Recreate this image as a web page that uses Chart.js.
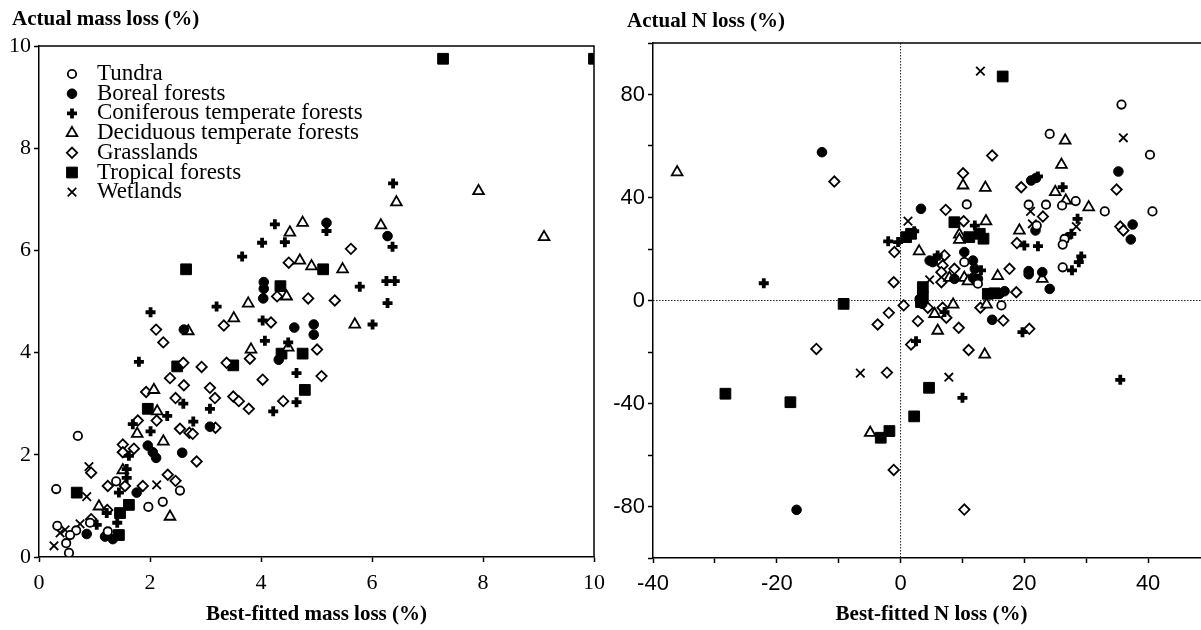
<!DOCTYPE html>
<html>
<head>
<meta charset="utf-8">
<title>Actual vs best-fitted mass and N loss</title>
<script src="https://cdn.jsdelivr.net/npm/chart.js@4/dist/chart.umd.min.js"></script>
<style>
    html, body {
        margin: 0;
        padding: 0;
        background: #fff;
        width: 1201px;
        height: 630px;
        overflow: hidden;
    }
    #massChart { position: absolute; left: 0; top: 0; }
    #nChart { position: absolute; left: 600px; top: 0; }
</style>
</head>
<body>
<canvas id="massChart" width="640" height="630"></canvas>
<canvas id="nChart" width="620" height="630"></canvas>
<script>
// biomes, in legend order
var biomes = ['Tundra', 'Boreal forests', 'Coniferous temperate forests',
    'Deciduous temperate forests', 'Grasslands', 'Tropical forests', 'Wetlands'];

// left panel: [best-fitted mass loss, actual mass loss]
var massTundra = [[0.70, 2.37], [1.39, 1.48], [2.54, 1.30], [0.31, 1.33], [1.97, 0.98], [2.23, 1.08], [0.92, 0.67],
    [0.67, 0.52], [0.33, 0.61], [0.56, 0.43], [1.24, 0.50], [0.49, 0.27], [0.54, 0.08]];
var massBoreal = [[5.18, 6.54], [6.28, 6.28], [4.05, 5.38], [4.05, 5.25], [4.04, 5.06], [2.61, 4.45], [4.60, 4.49],
    [4.95, 4.55], [4.95, 4.35], [4.32, 3.86], [3.08, 2.55], [1.96, 2.18], [2.05, 2.05], [2.11, 1.94], [2.58, 2.04],
    [1.76, 1.26], [0.86, 0.45], [1.19, 0.40], [1.33, 0.35]];
var massConifer = [[4.25, 6.51], [5.18, 6.38], [4.02, 6.15], [4.43, 6.16], [3.66, 5.88], [3.20, 4.90], [2.01, 4.79],
    [4.03, 4.63], [4.07, 4.23], [4.49, 4.20], [1.80, 3.82], [4.64, 3.60], [2.60, 3.00], [3.08, 2.90], [4.22, 2.85],
    [4.64, 3.03], [2.31, 2.76], [2.78, 2.65], [1.69, 2.60], [2.01, 2.46], [1.62, 1.98], [1.58, 1.72], [1.58, 1.55],
    [1.44, 1.26], [1.41, 0.67], [1.22, 0.86], [1.04, 0.63], [6.38, 7.31], [6.37, 6.07], [5.78, 5.29], [6.26, 5.40],
    [6.41, 5.40], [6.28, 4.97], [6.01, 4.55]];
var massDeciduous = [[4.75, 6.54], [4.52, 6.35], [4.70, 5.80], [4.91, 5.69], [4.46, 5.10], [3.77, 4.96], [3.51, 4.67],
    [2.69, 4.42], [4.49, 4.10], [3.82, 4.06], [2.07, 3.27], [2.13, 2.85], [1.77, 2.41], [2.24, 2.26], [1.51, 1.70],
    [2.36, 0.79], [1.08, 0.99], [6.44, 6.94], [7.92, 7.16], [9.10, 6.26], [6.16, 6.49], [5.47, 5.63], [5.69, 4.55]];
var massGrass = [[4.50, 5.76], [4.29, 5.10], [4.85, 5.06], [3.33, 4.53], [4.18, 4.59], [2.11, 4.45], [2.24, 4.20],
    [5.01, 4.06], [2.60, 3.80], [2.93, 3.72], [3.38, 3.80], [3.80, 3.88], [4.03, 3.47], [5.09, 3.54], [2.36, 3.50],
    [2.61, 3.36], [3.08, 3.31], [1.93, 3.23], [2.46, 3.11], [3.17, 3.11], [3.50, 3.14], [3.60, 3.05], [3.78, 2.90],
    [4.40, 3.05], [2.12, 2.67], [1.78, 2.67], [2.54, 2.51], [2.71, 2.43], [2.77, 2.41], [3.18, 2.53], [2.84, 1.87],
    [1.51, 2.20], [1.51, 2.05], [1.71, 2.12], [0.94, 1.65], [1.24, 1.39], [1.55, 1.39], [1.87, 1.39], [2.32, 1.61],
    [2.46, 1.49], [1.23, 0.92], [0.94, 0.74], [5.62, 6.03], [5.33, 5.02]];
var massTropical = [[2.65, 5.63], [5.12, 5.63], [4.35, 5.30], [4.37, 3.98], [4.75, 3.98], [2.49, 3.73], [3.50, 3.75],
    [4.79, 3.27], [1.96, 2.90], [0.68, 1.26], [1.62, 1.02], [1.46, 0.86], [1.44, 0.43], [7.28, 9.75], [10.0, 9.75]];
var massWetland = [[0.90, 1.77], [2.12, 1.41], [0.86, 1.18], [0.74, 0.65], [0.47, 0.53], [0.38, 0.47], [0.27, 0.22]];

// right panel: [best-fitted N loss, actual N loss]
var nTundra = [[35.7, 76.1], [24.1, 64.7], [40.3, 56.6], [28.3, 38.6], [26.1, 36.9], [33.0, 34.6], [40.7, 34.6],
    [20.7, 37.2], [23.5, 37.2], [22.0, 29.1], [26.5, 23.9], [26.2, 21.7], [26.2, 12.9], [10.7, 37.3], [10.3, 14.9],
    [12.5, 6.5], [16.3, -1.9]];
var nBoreal = [[-12.7, 57.6], [-16.8, -81.3], [35.2, 50.1], [21.1, 46.6], [21.9, 47.6], [21.8, 27.2], [37.5, 29.5],
    [37.2, 23.7], [20.7, 11.4], [20.7, 10.2], [22.9, 11.0], [24.1, 4.5], [16.8, 3.6], [16.0, 2.6], [3.3, 35.6],
    [5.2, 14.9], [4.7, 15.5], [11.7, 15.5], [12.0, 12.3], [8.7, 8.4], [11.7, 8.8], [12.5, 8.4], [3.1, 0.6],
    [3.5, -1.3], [14.8, -7.5], [10.3, 18.8]];
var nConifer = [[-22.1, 6.7], [-2.0, 23.0], [-0.4, 22.7], [22.2, 48.2], [26.2, 44.0], [20.0, 21.4], [22.2, 21.1],
    [28.6, 31.7], [27.6, 25.9], [26.9, 24.4], [27.7, 11.7], [29.2, 17.1], [28.8, 14.9], [2.2, 26.9], [12.0, 29.1],
    [6.0, 17.5], [5.7, 16.3], [13.0, 11.7], [7.1, -4.5], [2.5, -15.8], [19.7, -12.3], [10.0, -37.8], [35.5, -30.8]];
var nDeciduous = [[-36.1, 49.8], [-4.9, -51.4], [26.6, 62.1], [26.0, 52.7], [25.0, 42.1], [26.7, 38.8], [30.4, 36.2],
    [19.2, 27.2], [22.9, 8.4], [15.7, 9.5], [13.8, 30.8], [10.1, 44.7], [13.7, 43.8], [3.0, 19.1], [9.5, 25.6],
    [9.5, 23.6], [7.9, 8.8], [10.3, 8.8], [10.9, 7.5], [5.5, -5.2], [6.0, -11.7], [8.5, -1.6], [13.6, -21.0],
    [13.9, -1.6]];
var nGrass = [[-10.7, 46.2], [-1.0, 18.8], [-1.1, 7.1], [-3.7, -9.3], [-1.9, -4.8], [-13.6, -18.8], [-2.2, -28.0],
    [-1.1, -65.8], [0.5, -1.9], [4.4, -2.8], [2.8, -8.0], [6.8, -2.8], [7.4, -6.7], [9.4, -10.6], [1.7, -17.1],
    [11.0, -19.2], [12.9, -2.8], [16.6, -7.8], [20.8, -11.0], [10.3, -81.2], [14.8, 56.3], [34.9, 43.1], [19.5, 44.0],
    [23.0, 32.6], [18.8, 22.3], [35.5, 28.7], [36.0, 27.2], [17.6, 12.3], [7.3, 35.2], [10.2, 30.8], [10.1, 49.4],
    [7.1, 17.5], [8.7, 12.3], [6.8, 13.6], [6.6, 11.0], [6.6, 7.1], [18.7, 3.2]];
var nTropical = [[16.5, 87.0], [-9.2, -1.3], [-28.3, -36.2], [-17.8, -39.5], [-3.2, -53.3], [-1.8, -50.7], [3.3, -0.6],
    [4.6, -33.9], [2.2, -45.0], [14.1, 2.6], [15.2, 2.8], [0.9, 24.6], [1.7, 25.9], [8.7, 30.4], [11.1, 24.6],
    [12.8, 25.9], [13.4, 24.0], [3.6, 5.2], [3.6, 1.3]];
var nWetland = [[12.9, 89.1], [-6.5, -28.2], [7.8, -29.8], [36.0, 63.2], [21.0, 34.6], [21.3, 29.8], [28.4, 28.7],
    [1.2, 30.8], [4.7, 8.0]];

// labelled ticks
var massTicks = [0, 2, 4, 6, 8, 10];
var nXTicks = [-40, -20, 0, 20, 40];
var nYTicks = [-80, -40, 0, 40, 80];

var serif = "'Liberation Serif', 'Times New Roman', serif";
var sans = "'Liberation Sans', Arial, sans-serif";
Chart.defaults.font.family = serif;
Chart.defaults.color = '#000';

// one marker look per biome
var markers = [
    {style: 'circle', r: 4.2, bw: 1.8, fill: '#fff'},
    {style: 'circle', r: 4.8, bw: 1, fill: '#000'},
    {style: 'cross', r: 5, bw: 3.8, fill: '#000'},
    {style: 'triangle', r: 6.2, bw: 1.8, fill: '#fff'},
    {style: 'rectRot', r: 5.2, bw: 1.8, fill: '#fff'},
    {style: 'rect', r: 7.6, bw: 1, fill: '#000'},
    {style: 'crossRot', r: 6, bw: 1.8, fill: '#000'}
];

function buildDatasets(seriesList) {
    return seriesList.map(function (series, i) {
        var m = markers[i];
        return {
            label: biomes[i],
            data: series.map(function (p) {
                return {x: p[0], y: p[1]};
            }),
            pointStyle: m.style,
            pointRadius: m.r,
            pointHoverRadius: m.r,
            borderWidth: m.bw,
            pointBorderWidth: m.bw,
            backgroundColor: m.fill,
            borderColor: '#000',
            showLine: false
        };
    });
}

function fixedAxis(size) {
    return function (scale) {
        if (scale.isHorizontal()) {
            scale.height = size;
        } else {
            scale.width = size;
        }
        scale.paddingLeft = 0;
        scale.paddingRight = 0;
        scale.paddingTop = 0;
        scale.paddingBottom = 0;
    };
}

function labelOnly(list) {
    return function (value) {
        return list.indexOf(value) >= 0 ? String(value) : '';
    };
}

// top and right border of the plotting box
var framePlugin = {
    id: 'frame',
    afterDraw: function (chart) {
        var a = chart.chartArea;
        var ctx = chart.ctx;
        ctx.save();
        ctx.strokeStyle = '#000';
        ctx.lineWidth = 1.5;
        ctx.beginPath();
        ctx.moveTo(a.left, a.top);
        ctx.lineTo(a.right, a.top);
        ctx.lineTo(a.right, a.bottom);
        ctx.stroke();
        ctx.restore();
    }
};

// dotted lines through zero (right panel)
var zeroLinesPlugin = {
    id: 'zeroLines',
    beforeDatasetsDraw: function (chart, args, opts) {
        if (!opts.show) return;
        var a = chart.chartArea;
        var ctx = chart.ctx;
        var x0 = chart.scales.x.getPixelForValue(0);
        var y0 = chart.scales.y.getPixelForValue(0);
        ctx.save();
        ctx.strokeStyle = '#222';
        ctx.lineWidth = 1;
        ctx.setLineDash([1.5, 1.5]);
        ctx.beginPath();
        ctx.moveTo(x0, a.top);
        ctx.lineTo(x0, a.bottom);
        ctx.moveTo(a.left, y0);
        ctx.lineTo(a.right, y0);
        ctx.stroke();
        ctx.restore();
    }
};

// bold heading at the top left of each panel
var headingPlugin = {
    id: 'heading',
    afterDraw: function (chart, args, opts) {
        if (!opts.text) return;
        var ctx = chart.ctx;
        ctx.save();
        ctx.fillStyle = '#000';
        ctx.font = 'bold 21px ' + serif;
        ctx.textAlign = 'left';
        ctx.textBaseline = 'middle';
        ctx.fillText(opts.text, opts.x, opts.y);
        ctx.restore();
    }
};

// legend list inside the left panel
var keyPlugin = {
    id: 'key',
    afterDraw: function (chart, args, opts) {
        if (!opts.show) return;
        var ctx = chart.ctx;
        chart.data.datasets.forEach(function (ds, i) {
            var y = opts.y + i * opts.step;
            ctx.save();
            ctx.fillStyle = ds.backgroundColor;
            ctx.strokeStyle = ds.borderColor;
            ctx.lineWidth = ds.borderWidth;
            Chart.helpers.drawPoint(ctx, {
                pointStyle: ds.pointStyle,
                radius: ds.pointRadius,
                borderWidth: ds.borderWidth,
                rotation: 0
            }, opts.x, y);
            ctx.restore();
            ctx.save();
            ctx.fillStyle = '#000';
            ctx.font = '23px ' + serif;
            ctx.textAlign = 'left';
            ctx.textBaseline = 'middle';
            ctx.fillText(ds.label, opts.textX, y);
            ctx.restore();
        });
    }
};

function axisOptions(min, max, step, labels, size, title, tickFamily) {
    var axis = {
        type: 'linear',
        min: min,
        max: max,
        ticks: {
            stepSize: step,
            autoSkip: false,
            maxRotation: 0,
            font: {size: 22, family: tickFamily},
            color: '#000',
            callback: labelOnly(labels)
        },
        grid: {
            display: true,
            drawOnChartArea: false,
            drawTicks: true,
            tickLength: 5,
            tickColor: '#000',
            tickWidth: 1.5
        },
        border: {display: true, color: '#000', width: 1.5},
        afterFit: fixedAxis(size)
    };
    if (title) {
        axis.ticks.padding = 8;
        axis.title = {
            display: true,
            text: title,
            font: {size: 21, weight: 'bold', family: serif},
            color: '#000',
            padding: {top: 0, bottom: 3}
        };
    } else {
        axis.ticks.padding = 3;
    }
    return axis;
}

new Chart(document.getElementById('massChart'), {
    type: 'scatter',
    data: {
        datasets: buildDatasets([massTundra, massBoreal, massConifer, massDeciduous,
            massGrass, massTropical, massWetland])
    },
    options: {
        responsive: false,
        animation: false,
        events: [],
        layout: {padding: {left: 0, top: 46, right: 46, bottom: 0}},
        scales: {
            x: axisOptions(0, 10, 2, massTicks, 73, 'Best-fitted mass loss (%)', serif),
            y: axisOptions(0, 10, 2, massTicks, 39, null, serif)
        },
        plugins: {
            legend: {display: false},
            tooltip: {enabled: false},
            heading: {text: 'Actual mass loss (%)', x: 12, y: 20},
            key: {show: true, x: 72, textX: 97, y: 74, step: 19.7},
            zeroLines: {show: false}
        }
    },
    plugins: [framePlugin, zeroLinesPlugin, headingPlugin, keyPlugin]
});

new Chart(document.getElementById('nChart'), {
    type: 'scatter',
    data: {
        datasets: buildDatasets([nTundra, nBoreal, nConifer, nDeciduous,
            nGrass, nTropical, nWetland])
    },
    options: {
        responsive: false,
        animation: false,
        events: [],
        layout: {padding: {left: 0, top: 43, right: 10, bottom: 0}},
        scales: {
            x: axisOptions(-40, 50, 10, nXTicks, 72, 'Best-fitted N loss (%)', sans),
            y: axisOptions(-100, 100, 20, nYTicks, 53, null, sans)
        },
        plugins: {
            legend: {display: false},
            tooltip: {enabled: false},
            heading: {text: 'Actual N loss (%)', x: 27, y: 22},
            key: {show: false},
            zeroLines: {show: true}
        }
    },
    plugins: [framePlugin, zeroLinesPlugin, headingPlugin, keyPlugin]
});
</script>
</body>
</html>
